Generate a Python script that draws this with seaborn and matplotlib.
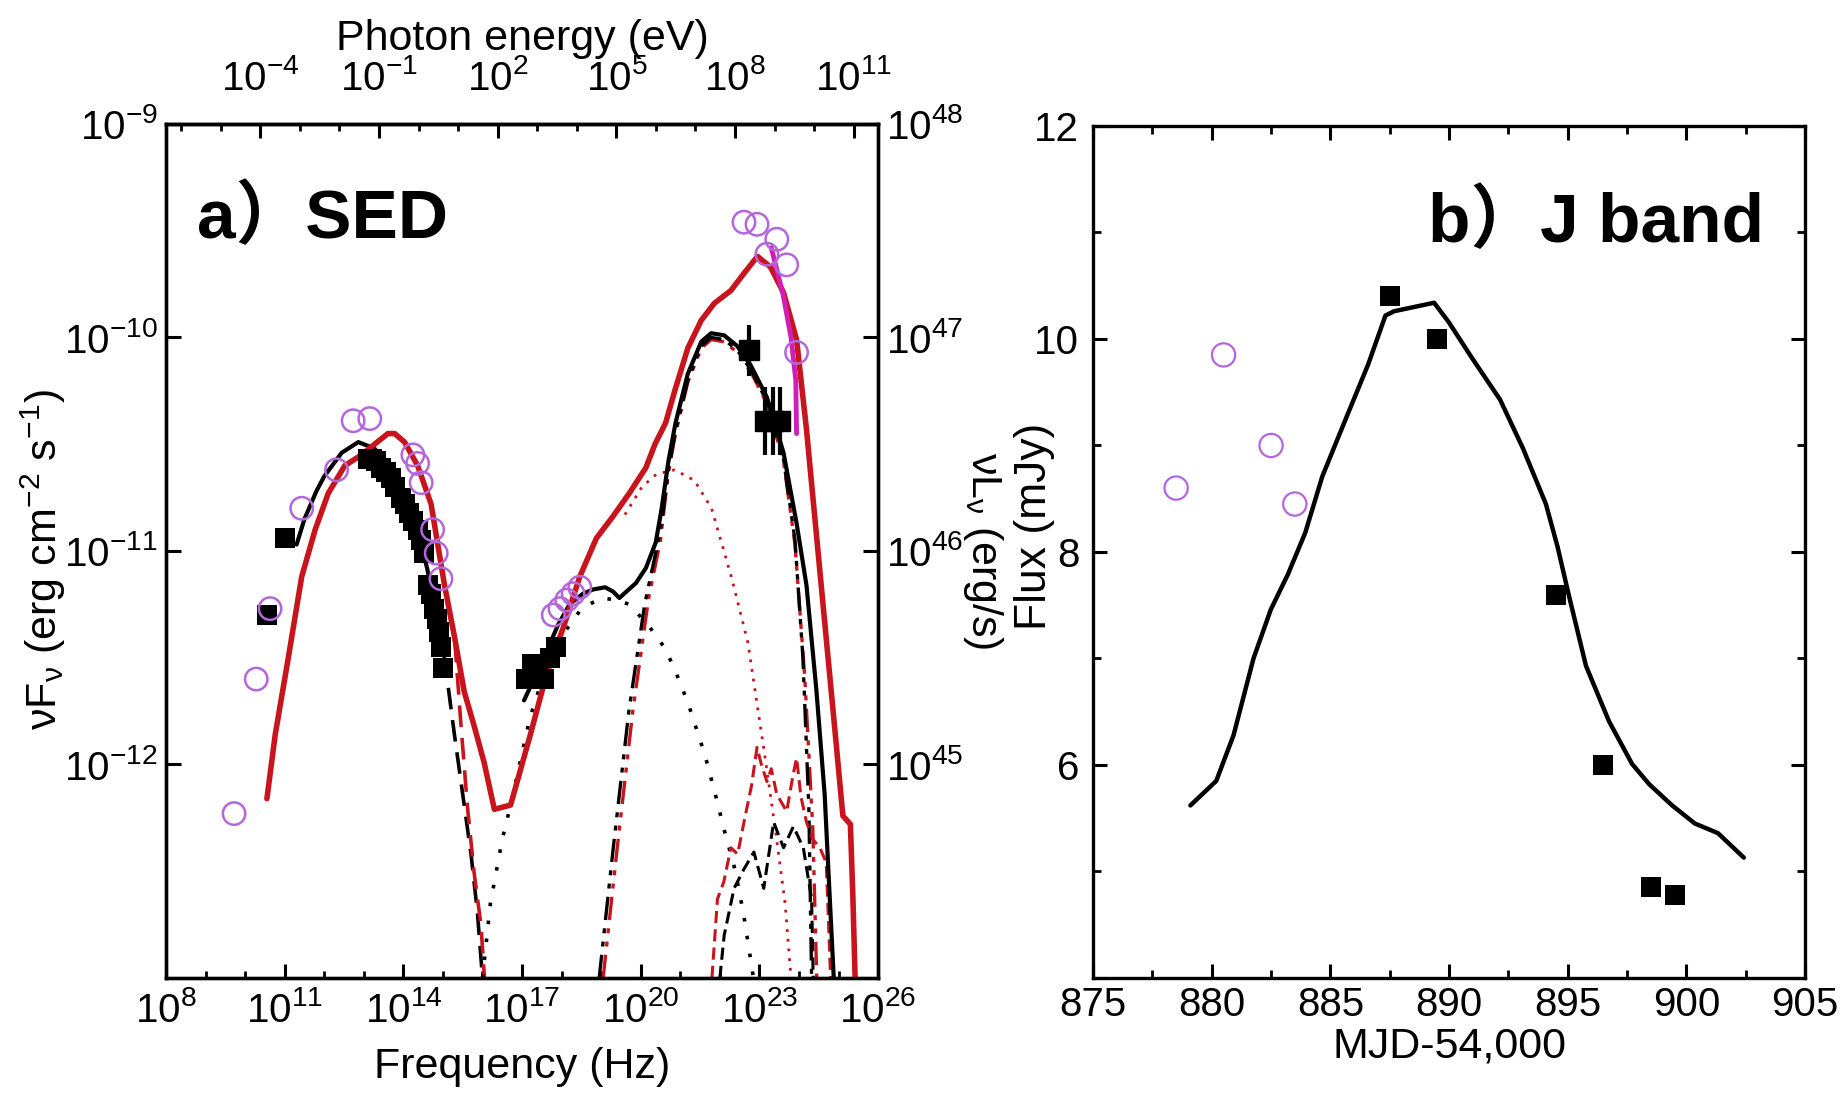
import numpy as np
import matplotlib
matplotlib.use("Agg")
import matplotlib.pyplot as plt
import seaborn as sns
from matplotlib.ticker import FixedLocator, NullFormatter, NullLocator, FuncFormatter

sns.set_theme(style="ticks")
plt.rcParams["font.family"] = ["Liberation Sans", "Noto Sans CJK SC", "DejaVu Sans"]
plt.rcParams["mathtext.fontset"] = "custom"
plt.rcParams["mathtext.rm"] = "Liberation Sans"
plt.rcParams["mathtext.it"] = "Liberation Sans:italic"
plt.rcParams["mathtext.bf"] = "Liberation Sans:bold"
for k in ("text.color", "axes.labelcolor", "xtick.color", "ytick.color", "axes.edgecolor"):
    plt.rcParams[k] = "black"

H_EV = 4.1357e-15  # Planck constant (eV s)

# ---------------- panel a) SED : values as log10(nu), log10(nuF_nu) ----------------
red_total_lognu = [10.55, 10.76, 11.1, 11.43, 11.77, 12.1, 12.52, 12.94, 13.27, 13.61, 13.78,
                   14.03, 14.36, 14.7, 15.04, 15.29, 15.54, 15.79, 16.04, 16.3, 16.71, 17.21,
                   17.63, 18.04, 18.46, 18.88, 19.29, 19.71, 20.13, 20.36, 20.63, 20.86, 21.19,
                   21.53, 21.86, 22.28, 22.61, 22.95, 23.28, 23.61, 23.94, 24.19, 24.44, 24.69,
                   24.94, 25.11, 25.3, 25.36, 25.42]
red_total_logF = [-12.16, -11.86, -11.49, -11.12, -10.90, -10.73, -10.60, -10.55, -10.50, -10.45,
                  -10.45, -10.49, -10.60, -10.78, -11.16, -11.40, -11.66, -11.82, -11.99, -12.21,
                  -12.19, -11.86, -11.57, -11.36, -11.12, -10.94, -10.84, -10.73, -10.61, -10.50,
                  -10.40, -10.25, -10.05, -9.92, -9.84, -9.78, -9.70, -9.62, -9.67, -9.79, -10.01,
                  -10.43, -10.92, -11.41, -11.90, -12.24, -12.28, -12.6, -13.0]

black_sync_lognu = [11.3, 11.5, 11.8, 12.0, 12.44, 12.86, 13.27, 13.6, 14.0, 14.36, 14.6, 14.8,
                    15.03]
black_sync_logF = [-10.97, -10.85, -10.72, -10.65, -10.54, -10.49, -10.52, -10.60, -10.78, -10.92,
                   -11.08, -11.27, -11.49]

black_comp_lognu = [17.05, 17.3, 17.6, 17.9, 18.2, 18.54, 18.8, 19.1, 19.3, 19.46, 19.7, 19.88,
                    20.13, 20.38, 20.53, 20.7, 20.88, 21.19, 21.53, 21.78, 22.11, 22.44, 22.78,
                    23.19, 23.61, 23.94, 24.19, 24.44, 24.65, 24.78, 24.88]
black_comp_logF = [-11.70, -11.60, -11.48, -11.35, -11.25, -11.20, -11.18, -11.17, -11.19,
                   -11.22, -11.18, -11.15, -11.08, -10.96, -10.80, -10.58, -10.40, -10.17, -10.02,
                   -9.98, -9.99, -10.04, -10.13, -10.28, -10.54, -10.87, -11.16, -11.65, -12.14,
                   -12.63, -13.0]

black_sync_dash_lognu = [15.03, 15.29, 15.5, 15.71, 15.87, 16.0]
black_sync_dash_logF = [-11.49, -11.86, -12.14, -12.42, -12.69, -13.0]

red_sync_dash_lognu = [15.3, 15.45, 15.62, 15.79, 15.96, 16.05]
red_sync_dash_logF = [-11.42, -11.80, -12.20, -12.51, -12.75, -13.0]

black_ssc_lognu = [16.0, 16.2, 16.5, 16.71, 17.2, 17.6, 18.0, 18.5, 19.0, 19.4, 19.71, 20.2,
                   20.63, 20.96, 21.21, 21.63, 21.9, 22.13, 22.38, 22.6, 22.85]
black_ssc_logF = [-13.0, -12.65, -12.35, -12.19, -11.78, -11.55, -11.40, -11.27, -11.22, -11.23,
                  -11.25, -11.35, -11.46, -11.60, -11.72, -11.96, -12.15, -12.32, -12.49, -12.7,
                  -13.0]

red_ssc_lognu = [19.6, 20.03, 20.4, 20.86, 21.36, 21.79, 22.29, 22.71, 22.96, 23.13, 23.4,
                 23.65, 23.8]
red_ssc_logF = [-10.83, -10.70, -10.64, -10.62, -10.67, -10.80, -11.12, -11.43, -11.74, -11.95,
                -12.30, -12.65, -13.0]

black_ec_lognu = [18.95, 19.3, 19.7, 20.1, 20.4, 20.55, 20.7, 20.88, 21.19, 21.53, 21.78, 22.11,
                  22.44, 22.78, 23.19, 23.61, 23.9, 24.1, 24.25, 24.32]
black_ec_logF = [-13.0, -12.4, -11.75, -11.25, -10.99, -10.84, -10.62, -10.44, -10.20, -10.04,
                 -10.0, -10.01, -10.06, -10.15, -10.30, -10.57, -10.95, -11.5, -12.2, -13.0]

red_ec_lognu = [19.05, 19.4, 19.8, 20.2, 20.5, 20.7, 20.88, 21.19, 21.53, 21.78, 22.11, 22.44,
                22.78, 23.19, 23.61, 23.9, 24.15, 24.35, 24.45]
red_ec_logF = [-13.0, -12.4, -11.75, -11.22, -10.95, -10.63, -10.45, -10.21, -10.05, -10.01,
               -10.02, -10.07, -10.16, -10.31, -10.58, -10.97, -11.6, -12.3, -13.0]

red_casc_lognu = [21.8, 21.94, 22.1, 22.28, 22.45, 22.61, 22.8, 22.94, 23.05, 23.19, 23.3,
                  23.44, 23.69, 23.85, 23.94, 24.05, 24.19, 24.35, 24.53, 24.69, 24.8]
red_casc_logF = [-13.0, -12.63, -12.55, -12.39, -12.42, -12.27, -12.10, -11.92, -12.0, -12.08,
                 -12.02, -12.14, -12.22, -12.05, -11.97, -12.15, -12.27, -12.35, -12.39, -12.46,
                 -13.0]

black_casc_lognu = [22.0, 22.11, 22.36, 22.61, 22.86, 23.11, 23.36, 23.61, 23.86, 24.11,
                    24.32, 24.36]
black_casc_logF = [-13.0, -12.8, -12.58, -12.49, -12.41, -12.58, -12.27, -12.39, -12.29, -12.39,
                   -12.63, -13.0]

open_circ_lognu = [9.72, 10.28, 10.63, 11.43, 12.31, 12.73, 13.15, 14.24, 14.36, 14.45, 14.74,
                   14.83, 14.95, 17.79, 17.96, 18.13, 18.29, 18.46, 22.61, 22.94, 23.19, 23.44,
                   23.69, 23.94]
open_circ_logF = [-12.23, -11.60, -11.27, -10.80, -10.62, -10.39, -10.38, -10.55, -10.59, -10.68,
                  -10.90, -11.01, -11.13, -11.30, -11.27, -11.23, -11.20, -11.17, -9.46, -9.47,
                  -9.61, -9.54, -9.66, -10.07]

black_sq_lognu = [10.55, 11.01, 13.1, 13.2, 13.3, 13.44, 13.55, 13.69, 13.8, 13.95, 14.05,
                  14.15, 14.25, 14.36, 14.45, 14.53, 14.62, 14.7, 14.78, 14.85, 14.91, 14.95,
                  15.0, 17.1, 17.25, 17.4, 17.55, 17.7, 17.85]
black_sq_logF = [-11.30, -10.94, -10.57, -10.57, -10.58, -10.61, -10.63, -10.66, -10.70, -10.75,
                 -10.78, -10.82, -10.86, -10.90, -10.95, -11.01, -11.16, -11.20, -11.27, -11.32,
                 -11.38, -11.45, -11.55, -11.60, -11.53, -11.56, -11.60, -11.50, -11.45]

lat_lognu = [22.73, 23.15, 23.35, 23.53]
lat_logF = [-10.06, -10.39, -10.39, -10.39]
lat_logerr = [0.12, 0.16, 0.16, 0.16]

bowtie_lognu = [23.3, 23.6, 23.8, 23.92, 23.94]
bowtie_logF = [-9.58, -9.80, -10.0, -10.2, -10.45]

sed_xticks = [1e8, 1e11, 1e14, 1e17, 1e20, 1e23, 1e26]
sed_yticks = [1e-12, 1e-11, 1e-10, 1e-9]
lum_yticks = [1e45, 1e46, 1e47, 1e48]
energy_ticks = [1e-4, 1e-1, 1e2, 1e5, 1e8, 1e11]

# ---------------- panel b) J band ----------------
mjd_model = [879.1, 880.19, 880.92, 881.76, 882.49, 883.21, 883.94, 884.66, 885.63, 886.59,
             887.32, 887.68, 889.37, 889.98, 890.94, 892.15, 893.12, 894.08, 894.57, 895.05,
             895.77, 896.74, 897.71, 898.43, 899.4, 900.36, 901.33, 902.42]
flux_model = [5.62, 5.85, 6.28, 7.0, 7.46, 7.79, 8.18, 8.71, 9.24, 9.76, 10.22, 10.26, 10.34,
              10.16, 9.83, 9.43, 8.97, 8.45, 8.05, 7.59, 6.93, 6.41, 6.01, 5.82, 5.62, 5.45,
              5.36, 5.13]
mjd_open = [878.5, 880.5, 882.5, 883.5]
flux_open = [8.6, 9.85, 9.0, 8.45]
mjd_filled = [887.5, 889.5, 894.5, 896.5, 898.5, 899.5]
flux_filled = [10.4, 10.0, 7.6, 6.0, 4.85, 4.78]

# ---------------------------------------------------------------------------
RED = "#c8141c"
VIOLET = "#b466dc"
MAGENTA = "#d21eb4"
TICK_FS = 29
LABEL_FS = 31

fig = plt.figure(figsize=(18.47, 10.99), dpi=100)
axL = fig.add_axes([0.0899, 0.1101, 0.3855, 0.7771])
axR = fig.add_axes([0.5918, 0.1101, 0.3855, 0.7753])


def pw(a):
    return 10.0 ** np.asarray(a, dtype=float)


def line(ax, lx, ly, color, lw, ls="-", z=3):
    sns.lineplot(x=pw(lx), y=pw(ly), ax=ax, sort=False, estimator=None, color=color,
                 linewidth=lw, linestyle=ls, zorder=z, legend=False)


axL.set_xscale("log")
axL.set_yscale("log")

DASHDOT = (0, (7, 2.5, 1.5, 2.5, 1.5, 2.5))
# model components
line(axL, black_sync_dash_lognu, black_sync_dash_logF, "black", 2.6, (0, (6, 3)), 2)
line(axL, red_sync_dash_lognu, red_sync_dash_logF, RED, 2.6, (0, (6, 3)), 2)
line(axL, black_ssc_lognu, black_ssc_logF, "black", 2.6, (0, (1, 4)), 2)
line(axL, red_ssc_lognu, red_ssc_logF, RED, 2.0, (0, (1, 2.5)), 2)
line(axL, red_ec_lognu, red_ec_logF, RED, 2.4, DASHDOT, 2)
line(axL, black_ec_lognu, black_ec_logF, "black", 2.4, DASHDOT, 2)
line(axL, red_casc_lognu, red_casc_logF, RED, 2.2, (0, (4, 2)), 2)
line(axL, black_casc_lognu, black_casc_logF, "black", 2.2, (0, (4, 2)), 2)

# model totals
line(axL, black_sync_lognu, black_sync_logF, "black", 3.0, "-", 3)
line(axL, black_comp_lognu, black_comp_logF, "black", 3.0, "-", 3)
line(axL, red_total_lognu, red_total_logF, RED, 4.0, "-", 4)
line(axL, bowtie_lognu, bowtie_logF, MAGENTA, 3.5, "-", 4)

# data points
sns.scatterplot(x=pw(black_sq_lognu), y=pw(black_sq_logF), ax=axL, marker="s", s=190,
                color="black", edgecolor="black", linewidth=0, zorder=5, legend=False)
lat_y = pw(lat_logF)
lat_err = np.asarray(lat_logerr)
axL.errorbar(pw(lat_lognu), lat_y, yerr=[lat_y * (1 - 10 ** -lat_err), lat_y * (10 ** lat_err - 1)],
             fmt="s", color="black", ms=14, elinewidth=3, capsize=0, zorder=5)
sns.scatterplot(x=pw(open_circ_lognu), y=pw(open_circ_logF), ax=axL, marker="o", s=260,
                facecolor="none", edgecolor=VIOLET, linewidth=1.8, zorder=6, legend=False)

axL.set_xlim(1e8, 1e26)
axL.set_ylim(1e-13, 1e-9)

dec_fmt = FuncFormatter(lambda v, p: r"$\mathregular{10^{%d}}$" % int(round(np.log10(v))))

axL.xaxis.set_major_locator(FixedLocator(sed_xticks))
axL.xaxis.set_minor_locator(FixedLocator(10.0 ** np.arange(8, 27)))
axL.xaxis.set_major_formatter(dec_fmt)
axL.xaxis.set_minor_formatter(NullFormatter())
axL.yaxis.set_major_locator(FixedLocator(sed_yticks))
axL.yaxis.set_minor_locator(NullLocator())
axL.yaxis.set_major_formatter(dec_fmt)
axL.tick_params(axis="y", which="major", direction="in", length=11, width=2.2,
                labelsize=TICK_FS, pad=6)
axL.tick_params(axis="x", which="major", direction="in", length=10, width=2.2,
                labelsize=TICK_FS, pad=9)
axL.tick_params(axis="x", which="minor", direction="in", length=5, width=2.0)
axL.set_xlabel("Frequency (Hz)", fontsize=LABEL_FS)
axL.xaxis.label.set_va("center")
axL.xaxis.set_label_coords(0.5, -0.104)
axL.set_ylabel(r"νF$_\mathregular{ν}$ (erg cm$^\mathregular{-2}$ s$^\mathregular{-1}$)",
               fontsize=LABEL_FS)
axL.yaxis.label.set_va("center")
axL.yaxis.set_label_coords(-0.172, 0.49)

# top photon-energy axis
sec = axL.secondary_xaxis("top", functions=(lambda nu: nu * H_EV, lambda e: e / H_EV))
sec.xaxis.set_major_locator(FixedLocator(energy_ticks))
sec.xaxis.set_minor_locator(FixedLocator(10.0 ** np.arange(-6, 12)))
sec.xaxis.set_major_formatter(dec_fmt)
sec.xaxis.set_minor_formatter(NullFormatter())
sec.tick_params(axis="x", which="major", direction="in", length=10, width=2.2,
                labelsize=TICK_FS, pad=19)
sec.tick_params(axis="x", which="minor", direction="in", length=5, width=2.0)
sec.set_xlabel("Photon energy (eV)", fontsize=LABEL_FS, labelpad=6)
sec.spines["top"].set_linewidth(2.4)

# right luminosity axis
lum = axL.twinx()
lum.set_yscale("log")
lum.set_ylim(1e-13 * 1e57, 1e-9 * 1e57)
lum.yaxis.set_major_locator(FixedLocator(lum_yticks))
lum.yaxis.set_minor_locator(NullLocator())
lum.yaxis.set_major_formatter(dec_fmt)
lum.tick_params(axis="y", which="major", direction="in", length=11, width=2.2,
                labelsize=TICK_FS, pad=6)
lum.set_ylabel(r"νL$_\mathregular{ν}$ (erg/s)", fontsize=LABEL_FS, rotation=270)
lum.yaxis.label.set_va("center")
lum.yaxis.label.set_ha("center")
lum.yaxis.set_label_coords(1.148, 0.50)

for ax in (axL, lum):
    for sp in ax.spines.values():
        sp.set_linewidth(2.4)
        sp.set_color("black")

axL.text(0.044, 0.866, "a）SED", transform=axL.transAxes, fontsize=50, fontweight="bold",
         va="baseline", ha="left", zorder=10)

# ---------------- panel b ----------------
sns.lineplot(x=mjd_model, y=flux_model, ax=axR, sort=False, estimator=None, color="black",
             linewidth=3.2, zorder=3, legend=False)
sns.scatterplot(x=mjd_open, y=flux_open, ax=axR, marker="o", s=280, facecolor="none",
                edgecolor=VIOLET, linewidth=1.6, zorder=5, legend=False)
sns.scatterplot(x=mjd_filled, y=flux_filled, ax=axR, marker="s", s=200, color="black",
                edgecolor="black", linewidth=0, zorder=5, legend=False)

axR.set_xlim(875, 905)
axR.set_ylim(4, 12)
axR.xaxis.set_major_locator(FixedLocator(np.arange(875, 906, 5)))
axR.xaxis.set_minor_locator(FixedLocator(np.arange(877.5, 905, 5)))
axR.yaxis.set_major_locator(FixedLocator([4, 6, 8, 10, 12]))
axR.yaxis.set_minor_locator(FixedLocator([5, 7, 9, 11]))
axR.yaxis.set_major_formatter(FuncFormatter(lambda v, p: "" if v == 4 else "%d" % v))
axR.tick_params(axis="both", which="major", direction="in", length=10, width=2.2,
                labelsize=TICK_FS, top=True, right=True)
axR.tick_params(axis="x", which="major", pad=6)
axR.tick_params(axis="y", which="major", pad=10)
axR.tick_params(axis="both", which="minor", direction="in", length=6, width=2.0,
                top=True, right=True)
axR.set_xlabel("MJD-54,000", fontsize=LABEL_FS)
axR.xaxis.label.set_va("center")
axR.xaxis.set_label_coords(0.5, -0.08)
axR.set_ylabel("Flux (mJy)", fontsize=32)
axR.yaxis.label.set_va("center")
axR.yaxis.set_label_coords(-0.082, 0.53)
for sp in axR.spines.values():
    sp.set_linewidth(2.4)
    sp.set_color("black")
axR.text(0.470, 0.864, "b）J band", transform=axR.transAxes, fontsize=50, fontweight="bold",
         va="baseline", ha="left", zorder=10)

fig.savefig("out.png", dpi=100, facecolor="white")
